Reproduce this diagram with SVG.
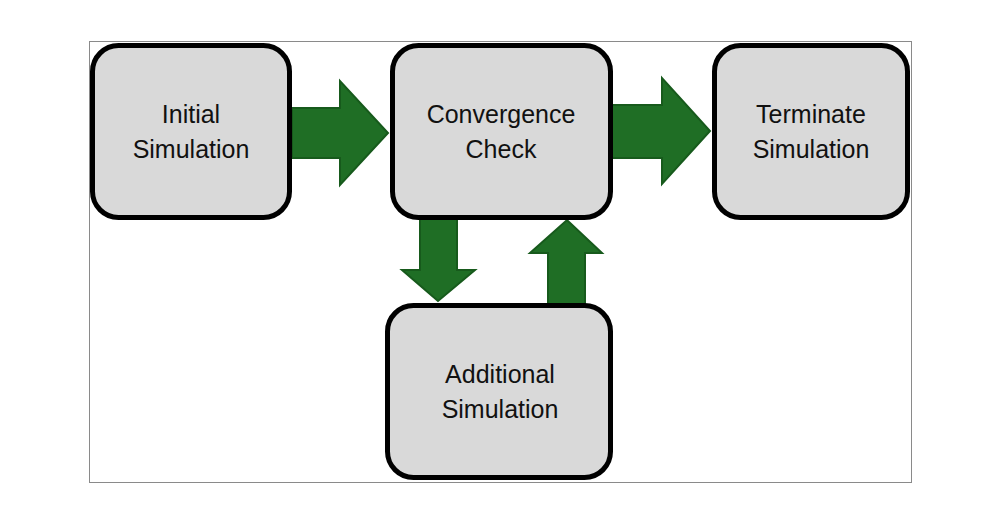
<svg xmlns="http://www.w3.org/2000/svg" width="1000" height="523" viewBox="0 0 1000 523">
<style>
.box{fill:#d9d9d9;stroke:#000;stroke-width:5}
.arr{fill:#1f6e25;stroke:#175a1c;stroke-width:2;stroke-linejoin:miter}
.lbl{font-family:"Liberation Sans",Arial,sans-serif;font-size:25px;fill:#111;text-anchor:middle}
</style>
<rect x="0" y="0" width="1000" height="523" fill="#fff"/>
<rect x="89.5" y="41.5" width="822" height="441" fill="none" stroke="#8a8a8a" stroke-width="1"/>
<g id="connectors">
<polygon class="arr" points="292,108 340,108 340,81 388,133 340,185 340,158 292,158"/>
<polygon class="arr" points="612,105 662,105 662,78 710,131 662,184 662,158 612,158"/>
<polygon class="arr" points="420,218 457,218 457,270 475,270 438,301 402,270 420,270"/>
<polygon class="arr" points="548,305 585,305 585,253 602,253 567,220 530,253 548,253"/>
</g>
<g id="initial">
<rect class="box" x="92.5" y="45.5" width="197" height="172" rx="26"/>
<text class="lbl" x="191" y="123">Initial</text>
<text class="lbl" x="191" y="158">Simulation</text>
</g>
<g id="convergence">
<rect class="box" x="392.5" y="45.5" width="218" height="172" rx="26"/>
<text class="lbl" x="501" y="123">Convergence</text>
<text class="lbl" x="501" y="158">Check</text>
</g>
<g id="terminate">
<rect class="box" x="714.5" y="45.5" width="193" height="172" rx="26"/>
<text class="lbl" x="811" y="123">Terminate</text>
<text class="lbl" x="811" y="158">Simulation</text>
</g>
<g id="additional">
<rect class="box" x="387.5" y="305.5" width="223" height="172" rx="26"/>
<text class="lbl" x="500" y="383">Additional</text>
<text class="lbl" x="500" y="418">Simulation</text>
</g>
</svg>
